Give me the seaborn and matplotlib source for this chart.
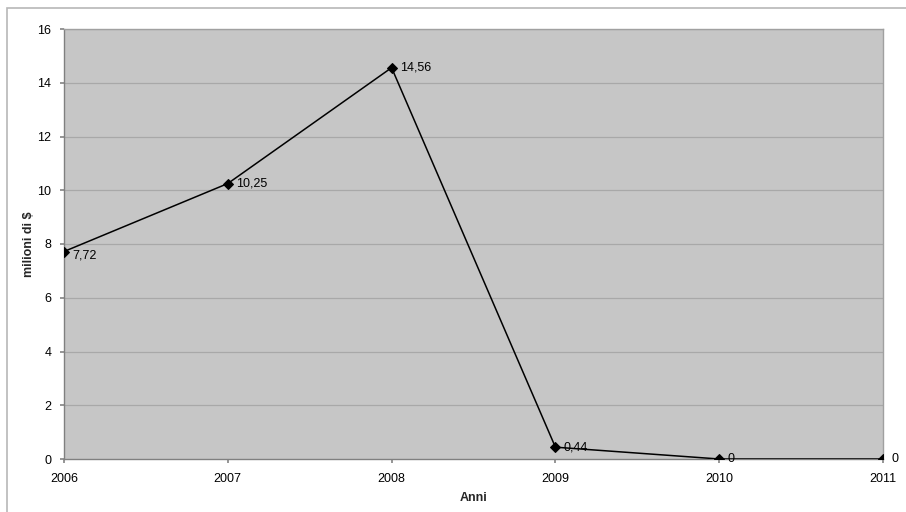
import matplotlib
matplotlib.use("Agg")
import matplotlib.pyplot as plt
import seaborn as sns
import pandas as pd
from matplotlib.patches import Rectangle

years = [2006, 2007, 2008, 2009, 2010, 2011]
values = [7.72, 10.25, 14.56, 0.44, 0, 0]
labels = ["7,72", "10,25", "14,56", "0,44", "0", "0"]
yticks = [0, 2, 4, 6, 8, 10, 12, 14, 16]

sns.set_theme(style="white")
plt.rcParams['font.family'] = ['Liberation Sans', 'DejaVu Sans']

df = pd.DataFrame({"Anni": years, "val": values})

fig = plt.figure(figsize=(9.06, 5.12), dpi=100)
ax = fig.add_axes([64/906, 1-459/512, (883-64)/906, (459-29)/512])
ax.set_facecolor("#c6c6c6")

# figure border
fig.patches.append(Rectangle((7/906, -0.1), 1.2, (504-0)/512 + 0.1, transform=fig.transFigure,
                             fill=False, edgecolor="#b8b8b8", linewidth=1.2))

for y in yticks[1:]:
    ax.axhline(y, color="#a8a8a8", linewidth=0.9, zorder=1)

sns.lineplot(data=df, x="Anni", y="val", ax=ax, color="black", linewidth=1.1,
             marker="D", markersize=5, markeredgecolor="black", zorder=3)

for x, v, lab in zip(years, values, labels):
    dy = -3 if lab == "7,72" else 0
    ax.annotate(lab, (x, v), xytext=(6, dy), textcoords="offset points",
                ha="left", va="center", fontsize=9, color="black", zorder=4)

ax.set_xlim(2006, 2011)
ax.set_ylim(0, 16)
ax.set_xticks(years)
ax.set_xticklabels([str(y) for y in years])
ax.set_yticks(yticks)
ax.set_yticklabels([str(y) for y in yticks])
ax.tick_params(axis="both", labelsize=9, colors="black", length=3, direction="out",
               left=True, bottom=True, color="#888888")
ax.tick_params(axis="x", pad=7)
ax.tick_params(axis="y", pad=6)
ax.set_xlabel("Anni", fontsize=9, fontweight="bold", labelpad=5)
ax.set_ylabel("milioni di $", fontsize=9, fontweight="bold", labelpad=2)

for s in ["left", "bottom"]:
    ax.spines[s].set_color("#808080")
    ax.spines[s].set_linewidth(1.0)
for s in ["top", "right"]:
    ax.spines[s].set_color("#a0a0a0")
    ax.spines[s].set_linewidth(1.0)

fig.savefig("out.png", dpi=100)
